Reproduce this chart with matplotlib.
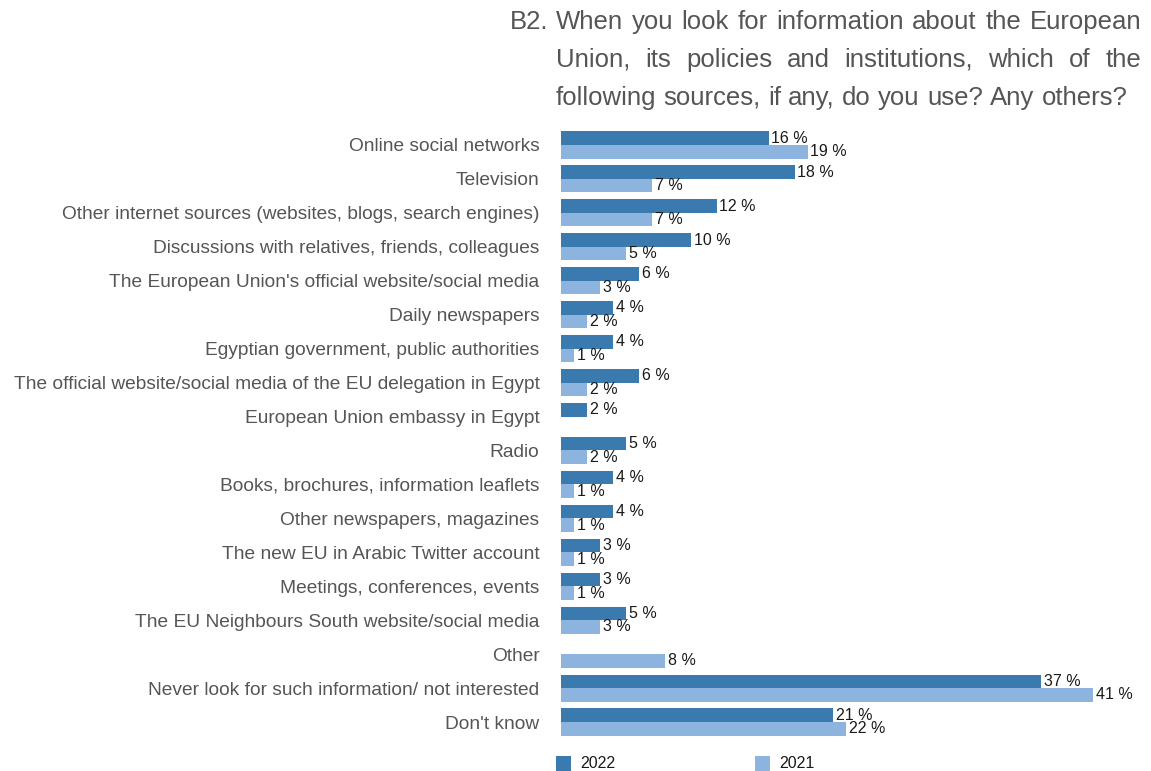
import numpy as np
import matplotlib.pyplot as plt
from matplotlib.patches import Rectangle

plt.rcParams['font.family'] = ['Liberation Sans', 'DejaVu Sans']

# 数据
categories = [
    "Online social networks",
    "Television",
    "Other internet sources (websites, blogs, search engines)",
    "Discussions with relatives, friends, colleagues",
    "The European Union's official website/social media",
    "Daily newspapers",
    "Egyptian government, public authorities",
    "The official website/social media of the EU delegation in Egypt",
    "European Union embassy in Egypt",
    "Radio",
    "Books, brochures, information leaflets",
    "Other newspapers, magazines",
    "The new EU in Arabic Twitter account",
    "Meetings, conferences, events",
    "The EU Neighbours South website/social media",
    "Other",
    "Never look for such information/ not interested",
    "Don't know",
]
values_2022 = [16, 18, 12, 10, 6, 4, 4, 6, 2, 5, 4, 4, 3, 3, 5, None, 37, 21]
values_2021 = [19, 7, 7, 5, 3, 2, 1, 2, None, 2, 1, 1, 1, 1, 3, 8, 41, 22]
series_names = ["2022", "2021"]

title_prefix = "B2."
title_lines = [
    "When you look for information about the European",
    "Union, its policies and institutions, which of the",
    "following sources, if any, do you use? Any others?",
]

c_dark = "#3a7aae"
c_light = "#8db3df"
grey = "#555555"

W, H = 1151, 771
fig = plt.figure(figsize=(W / 100, H / 100), dpi=100)

# 坐标轴位置（像素换算）
x0, x1 = 561, 1093
y_top, y_bot = 128, 739
ax = fig.add_axes([x0 / W, 1 - y_bot / H, (x1 - x0) / W, (y_bot - y_top) / H])

n = len(categories)
y = np.arange(n)
bh = 0.4

for vals, off, col in [(values_2022, -bh / 2, c_dark), (values_2021, bh / 2, c_light)]:
    for i, v in enumerate(vals):
        if v is None:
            continue
        ax.barh(y[i] + off, v, height=bh, color=col, linewidth=0)
        ax.annotate(f"{v} %", (v, y[i] + off), xytext=(2, 0), textcoords="offset points",
                    va="center", ha="left", fontsize=11.5, color="#1a1a1a",
                    annotation_clip=False)

ax.set_xlim(0, 41)
ax.set_ylim(n - 0.5, -0.5)
ax.set_yticks(y)
ax.set_yticklabels(categories, fontsize=13.8, color=grey)
ax.tick_params(axis="y", length=0, pad=15.5)
ax.set_xticks([])
for s in ax.spines.values():
    s.set_visible(False)

# 标题：两端对齐
fs_title = 18.5
fig.text(510 / W, 1 - 29 / H, title_prefix, fontsize=fs_title, color=grey, va="baseline", ha="left")
renderer = fig.canvas.get_renderer()
left_px, right_px = 556, 1141
line_y = [29, 67, 105]
for li, line in enumerate(title_lines):
    words = line.split(" ")
    texts = []
    widths = []
    for w in words:
        t = fig.text(0, 1 - line_y[li] / H, w, fontsize=fs_title, color=grey, va="baseline", ha="left")
        widths.append(t.get_window_extent(renderer).width)
        texts.append(t)
    if li < len(title_lines) - 1:
        gap = (right_px - left_px - sum(widths)) / (len(words) - 1)
    else:
        gap = fs_title * 1.389 * 0.28
    xpos = left_px
    for t, wd in zip(texts, widths):
        t.set_x(xpos / W)
        xpos += wd + gap

# 图例
for (lx, tx), name, col in zip([(556, 580), (755, 779)], series_names, [c_dark, c_light]):
    fig.patches.append(Rectangle((lx / W, 1 - 771 / H), 15 / W, 15 / H, transform=fig.transFigure,
                                 color=col, linewidth=0))
    fig.text(tx / W, 1 - 764 / H, name, fontsize=11.5, color="#1a1a1a", va="center", ha="left")

fig.savefig("out.png", dpi=100)
